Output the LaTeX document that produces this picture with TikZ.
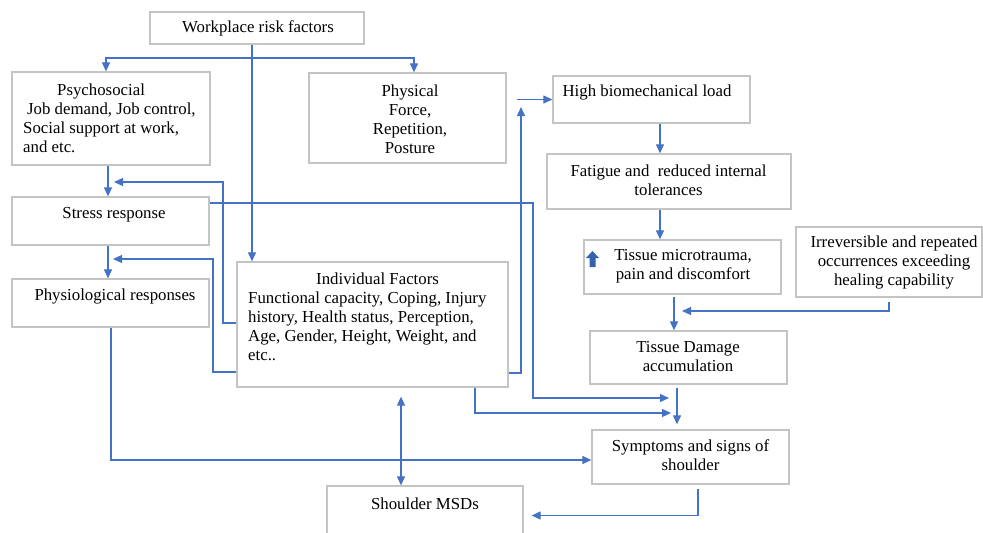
\documentclass[tikz,border=0pt]{standalone}
\usepackage{fontspec}
\setmainfont{Liberation Serif}
\usetikzlibrary{arrows.meta}
\definecolor{lnblue}{RGB}{68,114,196}
\definecolor{boxgray}{RGB}{196,196,196}
\definecolor{iconblue}{RGB}{52,98,172}
\tikzset{
 box/.style={draw=boxgray,line width=1.3pt,inner sep=0pt,fill=white},
 txt/.style={inner sep=0pt,font=\fontsize{16.8}{19}\selectfont,align=center},
 arr/.style={draw=lnblue,line width=1.2pt,-{Triangle[length=9pt,width=8pt]}},
 darr/.style={draw=lnblue,line width=1.2pt,{Triangle[length=9pt,width=8pt]}-{Triangle[length=9pt,width=8pt]}},
}
\begin{document}
\begin{tikzpicture}[x=1pt,y=-1pt]
\useasboundingbox (0,0) rectangle (983,533);
\clip (0,0) rectangle (983,533);
\fill[white] (0,0) rectangle (983,533);
% boxes
\node[box,minimum width=214pt,minimum height=32pt] (wrf) at (257,28) {};
\node[box,minimum width=198pt,minimum height=93pt] (psy) at (111,118.5) {};
\node[box,minimum width=197pt,minimum height=90pt] (phy) at (407.5,118) {};
\node[box,minimum width=197pt,minimum height=48pt] (str) at (110.5,221) {};
\node[box,minimum width=197pt,minimum height=48pt] (phys) at (110.5,303) {};
\node[box,minimum width=271pt,minimum height=125pt] (ind) at (372.5,324.5) {};
\node[box,minimum width=196pt,minimum height=59pt] (msd) at (425,515.5) {};
\node[box,minimum width=197pt,minimum height=47pt] (hbl) at (651.5,99.5) {};
\node[box,minimum width=244pt,minimum height=55pt] (fat) at (669,181.5) {};
\node[box,minimum width=197pt,minimum height=54pt] (tm) at (682.5,267) {};
\node[box,minimum width=186pt,minimum height=70pt] (irr) at (889,262) {};
\node[box,minimum width=197pt,minimum height=53pt] (td) at (688.5,357.5) {};
\node[box,minimum width=197pt,minimum height=54pt] (sym) at (690.5,457) {};
% texts
\node[txt] (wrft) at (258,28.5) {Workplace risk factors};
\node[txt,align=left,anchor=west] (psyt) at (23,118) {\hspace*{34pt}Psychosocial\\\hspace*{4pt}Job demand, Job control,\\Social support at work,\\and etc.};
\node[txt] (phyt) at (410,119.5) {Physical\\Force,\\Repetition,\\Posture};
\node[txt] (strt) at (114,214.5) {Stress response};
\node[txt] (physt) at (115,296.5) {Physiological responses};
\node[txt,align=left,anchor=west] (indt) at (248,316.5) {\hspace*{68pt}Individual Factors\\Functional capacity, Coping, Injury\\history, Health status, Perception,\\Age, Gender, Height, Weight, and\\etc..};
\node[txt] (msdt) at (425,503.5) {Shoulder MSDs};
\node[txt] (hblt) at (647,92.5) {High biomechanical load};
\node[txt] (fatt) at (668.5,180.5) {Fatigue and\ \ reduced internal\\tolerances};
\node[txt] (tmt) at (683,266.5) {Tissue microtrauma,\\pain and discomfort};
\node[txt] (irrt) at (894,262.5) {Irreversible and repeated\\occurrences exceeding\\healing capability};
\node[txt] (tdt) at (688,356.5) {Tissue Damage\\accumulation};
\node[txt] (symt) at (690.5,455.5) {Symptoms and signs of\\shoulder};
% icon
\fill[iconblue] (589.5,267) -- (589.5,258) -- (586,258) -- (592.5,251) -- (599,258) -- (595.5,258) -- (595.5,267) -- cycle;
% connectors
\coordinate (j) at (252,58);
\draw[arr] ([xshift=-5pt]wrf.south) -- ([xshift=-5pt]wrf.south |- ind.north);
\draw[arr] (j) -| ([xshift=-5pt]psy.north);
\draw[arr] (j) -| ([xshift=6.5pt]phy.north);
\draw[arr] ([xshift=-3pt]psy.south) -- ([xshift=-3pt]psy.south |- str.north);
\coordinate (a4) at (114,182);
\draw[arr] ([yshift=1.5pt]ind.west) -| (223,182) -- (a4);
\draw[arr] ([xshift=-2.5pt]str.south) -- ([xshift=-2.5pt]str.south |- phys.north);
\coordinate (a6) at (113,259);
\draw[arr] ([yshift=-47.5pt]ind.west) -| (213,259) -- (a6);
\coordinate (a7) at (669,398);
\draw[arr] ([yshift=18pt]str.east) -| (533,398) -- (a7);
\coordinate (a8) at (521,107);
\draw[arr] ([yshift=-48.5pt]ind.east) -| (a8);
\coordinate (a9) at (517,99.5);
\draw[arr] (a9) -- (hbl.west);
\draw[arr] ([xshift=8.5pt]hbl.south) -- ([xshift=8.5pt]hbl.south |- fat.north);
\draw[arr] ([xshift=-9pt]fat.south) -- ([xshift=-9pt]fat.south |- tm.north);
\draw[arr] ([xshift=-8.5pt,yshift=-2pt]tm.south) -- ([xshift=-8.5pt]tm.south |- td.north);
\coordinate (a13) at (682,311);
\draw[arr] ([yshift=-4pt]irr.south) |- (a13);
\draw[arr] ([xshift=-11.5pt,yshift=-3pt]td.south) -- ([xshift=-11.5pt,yshift=5pt]td.south |- sym.north);
\coordinate (a15) at (671,413);
\draw[arr] ([xshift=102.5pt]ind.south) |- (a15);
\draw[arr] ([xshift=0.5pt]phys.south) |- ([yshift=-3pt]sym.west);
\draw[darr] ([xshift=28.5pt,yshift=-9pt]ind.south) -- ([xshift=28.5pt]ind.south |- msd.north);
\draw[arr] ([xshift=7.5pt,yshift=-4pt]sym.south) |- ([xshift=8pt]msd.east);
\end{tikzpicture}
\end{document}
